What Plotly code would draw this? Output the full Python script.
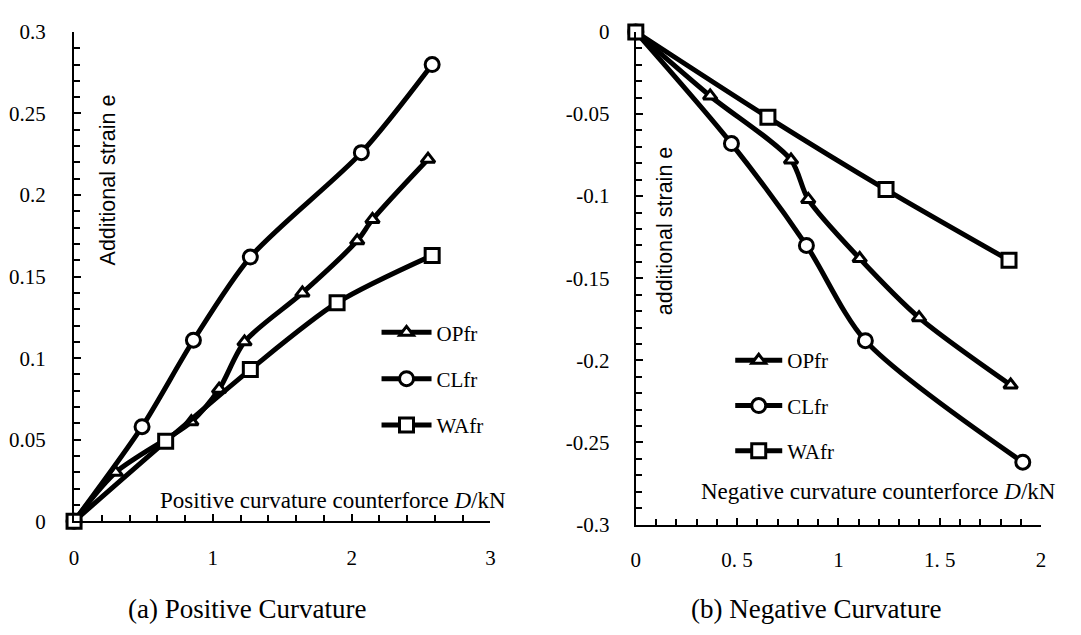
import plotly.graph_objects as go

# ---------------- data ----------------
series_names = ["OPfr", "CLfr", "WAfr"]

# (a) Positive curvature
pos_op_x = [0, 0.30, 0.845, 1.045, 1.228, 1.645, 2.04, 2.15, 2.55]
pos_op_y = [0, 0.030, 0.061, 0.081, 0.110, 0.140, 0.172, 0.185, 0.222]
pos_cl_x = [0, 0.49, 0.86, 1.27, 2.07, 2.58]
pos_cl_y = [0, 0.058, 0.111, 0.162, 0.226, 0.280]
pos_wa_x = [0, 0.66, 1.27, 1.895, 2.58]
pos_wa_y = [0, 0.049, 0.093, 0.134, 0.163]

# (b) Negative curvature
neg_op_x = [0, 0.367, 0.766, 0.851, 1.105, 1.398, 1.85]
neg_op_y = [0, -0.039, -0.078, -0.102, -0.138, -0.174, -0.215]
neg_cl_x = [0, 0.472, 0.842, 1.133, 1.91]
neg_cl_y = [0, -0.068, -0.130, -0.188, -0.262]
neg_wa_x = [0, 0.652, 1.235, 1.842]
neg_wa_y = [0, -0.052, -0.096, -0.139]

pos_xticks = [0, 1, 2, 3]
pos_xticktext = ["0", "1", "2", "3"]
neg_xticks = [0, 0.5, 1, 1.5, 2]
neg_xticktext = ["0", "0. 5", "1", "1. 5", "2"]
pos_yticks = [0, 0.05, 0.1, 0.15, 0.2, 0.25, 0.3]
pos_yticktext = ["0", "0.05", "0.1", "0.15", "0.2", "0.25", "0.3"]
neg_yticks = [0, -0.05, -0.1, -0.15, -0.2, -0.25, -0.3]
neg_yticktext = ["0", "-0.05", "-0.1", "-0.15", "-0.2", "-0.25", "-0.3"]

symbols = {"OPfr": "triangle-up", "CLfr": "circle", "WAfr": "square"}
msizes = {"OPfr": 12, "CLfr": 14, "WAfr": 14}

W, H = 1081, 635
SERIF = "Liberation Serif"
SANS = "Liberation Sans"

fig = go.Figure()

def add(name, xs, ys, xa, ya, legend):
    fig.add_trace(go.Scatter(
        x=xs, y=ys, name=name, mode="lines+markers",
        xaxis=xa, yaxis=ya, legend=legend, legendgroup=legend + name,
        line=dict(color="black", width=5, shape="spline", smoothing=0.8),
        marker=dict(symbol=symbols[name], size=msizes[name], color="white",
                    line=dict(color="black", width=3)),
        cliponaxis=False,
    ))

add("OPfr", pos_op_x, pos_op_y, "x", "y", "legend")
add("CLfr", pos_cl_x, pos_cl_y, "x", "y", "legend")
add("WAfr", pos_wa_x, pos_wa_y, "x", "y", "legend")
add("OPfr", neg_op_x, neg_op_y, "x2", "y2", "legend2")
add("CLfr", neg_cl_x, neg_cl_y, "x2", "y2", "legend2")
add("WAfr", neg_wa_x, neg_wa_y, "x2", "y2", "legend2")

def px(v):
    return v / W

def py(v):
    return 1 - v / H

tickfont = dict(family=SERIF, size=21, color="black")

def axis_common():
    return dict(
        showline=True, linecolor="black", linewidth=2,
        ticks="inside", ticklen=7, tickwidth=1.5, tickcolor="black",
        showgrid=False, zeroline=False,
        tickfont=dict(tickfont),
    )

def minor(d):
    return dict(dtick=d, ticks="inside", ticklen=6, tickcolor="black", tickwidth=1.5)

fig.update_layout(
    width=W, height=H,
    margin=dict(l=0, r=0, t=0, b=0),
    paper_bgcolor="white", plot_bgcolor="white",
    xaxis=dict(domain=[px(69.7), px(490)], range=[0, 3], anchor="y",
               tickvals=pos_xticks, ticktext=pos_xticktext, minor=minor(0.2),
               ticklabelstandoff=17, **axis_common()),
    yaxis=dict(domain=[py(529.3), py(20.7)], range=[0, 0.3], anchor="x",
               tickvals=pos_yticks, ticktext=pos_yticktext, minor=minor(0.01),
               ticklabelstandoff=22, **axis_common()),
    xaxis2=dict(domain=[px(636.7), px(1045.7)], range=[0, 2], anchor="y2",
                tickvals=neg_xticks, ticktext=neg_xticktext, minor=minor(0.1),
                ticklabelstandoff=15, **axis_common()),
    yaxis2=dict(domain=[py(532.7), py(20.7)], range=[-0.3, 0], anchor="x2",
                tickvals=neg_yticks, ticktext=neg_yticktext, minor=minor(0.01),
                ticklabelstandoff=20, **axis_common()),
    legend=dict(x=px(375), y=py(312), xanchor="left", yanchor="top",
                font=dict(family=SERIF, size=21, color="black"),
                bgcolor="rgba(0,0,0,0)", tracegroupgap=16, itemwidth=50),
    legend2=dict(x=px(732), y=py(341), xanchor="left", yanchor="top",
                 font=dict(family=SERIF, size=21, color="black"),
                 bgcolor="rgba(0,0,0,0)", tracegroupgap=15, itemwidth=47),
)

annotations = [
    dict(text="Additional strain e", x=px(104), y=py(175), textangle=-90,
         font=dict(family=SANS, size=21.5, color="black")),
    dict(text="additional strain e", x=px(667), y=py(227), textangle=-90,
         font=dict(family=SANS, size=21.5, color="black")),
    dict(text="Positive curvature counterforce <i>D</i>/kN", x=px(331), y=py(508),
         font=dict(family=SERIF, size=23, color="black")),
    dict(text="Negative curvature counterforce <i>D</i>/kN", x=px(882), y=py(498),
         font=dict(family=SERIF, size=23, color="black")),
    dict(text="(a) Positive Curvature", x=px(244), y=py(620),
         font=dict(family=SERIF, size=27, color="black")),
    dict(text="(b) Negative Curvature", x=px(819), y=py(620),
         font=dict(family=SERIF, size=27, color="black")),
]
for a in annotations:
    a.update(xref="paper", yref="paper", showarrow=False, xanchor="center", yanchor="middle")
fig.update_layout(annotations=annotations)

fig.write_html("out.html")
